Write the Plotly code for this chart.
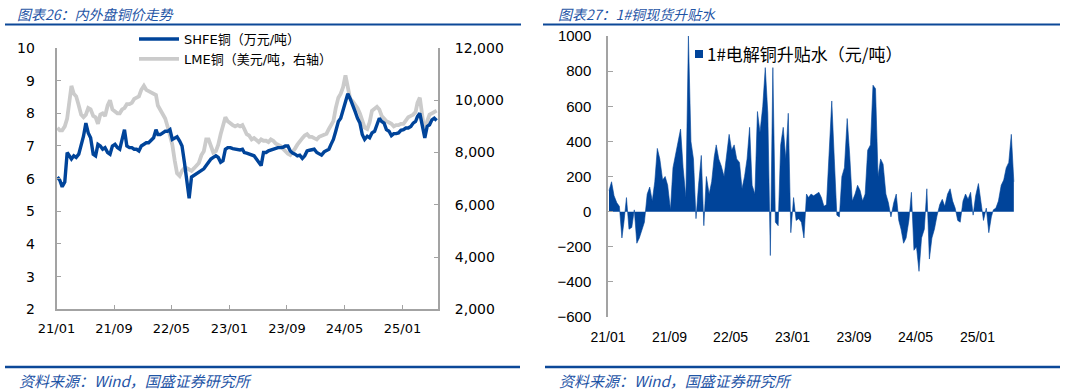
import pandas as pd
import plotly.graph_objects as go

# ---------------- data (one value per ten-day period, Jan 2021 - May 2025) ----------------
months = pd.date_range("2021-01-01", periods=53, freq="MS")
dates = [m + pd.Timedelta(days=d) for m in months for d in (4, 14, 24)]

# SHFE copper, 10k CNY/t (left axis)
shfe = [
    6.05, 5.95, 5.75,  5.9, 6.8, 6.7,  6.6, 6.7, 6.65,  6.75, 7.0, 7.3,
    7.7, 7.4, 7.25,  6.75, 6.7, 7.05,  7.0, 6.9, 6.95,  6.8, 6.75, 7.0,
    7.05, 6.95, 6.9,  7.25, 7.5, 7.0,  6.95, 6.95, 6.9,  6.9, 6.85, 7.0,
    7.05, 7.1, 7.1,  7.2, 7.25, 7.5,  7.35, 7.35, 7.4,  7.45, 7.45, 7.5,
    7.2, 7.25, 7.28,  7.15, 7.0, 6.5,  5.9, 5.4, 6.05,  6.1, 6.15, 6.2,
    6.25, 6.3, 6.4,  6.5, 6.6, 6.65,  6.7, 6.65, 6.5,  6.55, 6.9, 6.95,
    6.95, 6.92, 6.9,  6.9, 6.88, 6.9,  6.8, 6.78, 6.75,  6.72, 6.7, 6.6,
    6.5, 6.4, 6.8,  6.8, 6.85, 6.88,  6.9, 6.92, 6.95,  6.95, 6.96, 7.0,
    7.0, 6.85, 6.78,  6.75, 6.7, 6.72,  6.62, 6.7, 6.85,  6.87, 6.88, 6.9,
    6.8, 6.75, 6.72,  6.82, 6.85, 6.9,  7.05, 7.2, 7.45,  7.75, 7.85, 8.1,
    8.3, 8.6, 8.45,  8.2, 8.05, 7.85,  7.7, 7.35, 7.2,  7.3, 7.25, 7.4,
    7.45, 7.65, 7.85,  7.75, 7.7, 7.5,  7.45, 7.32, 7.38,  7.38, 7.4, 7.48,
    7.5, 7.55, 7.55,  7.6, 7.7, 7.75,  7.9, 8.0, 7.65,  7.25, 7.6, 7.65,
    7.8, 7.85, 7.78,
]

# LME copper, USD/t (right axis)
lme = [
    8950, 8850, 8850,  9000, 9300, 10000,  10550, 10250, 10150,  9800, 9450, 9350,
    9450, 9700, 9650,  9400, 9350, 9100,  9450, 9500, 9400,  9800, 10000, 9650,
    9550, 9500, 9500,  9650, 9700, 9850,  9850, 9900, 10050,  10100, 10150, 10400,
    10550, 10400, 10350,  10300, 10250, 10200,  9800, 9650, 9450,  9300, 9000, 8700,
    8300, 7700, 7200,  7100, 7300, 7400,  7400, 7350, 7300,  7400, 7500, 7600,
    7900, 8050, 8500,  8500, 8250, 8000,  8050, 8300, 8700,  9100, 9350, 9200,
    9100, 9050, 9000,  9050, 9000, 9050,  8900, 8700, 8650,  8500, 8550, 8450,
    8400, 8500, 8450,  8450, 8400, 8500,  8450, 8350, 8300,  8250, 8150, 8050,
    7950, 7900, 8000,  8150, 8300, 8450,  8550, 8650, 8700,  8600, 8600, 8550,
    8500, 8600, 8650,  8700, 8720, 8900,  9050, 9200, 9700,  10100, 10250, 10500,
    10950, 10450, 10050,  9950, 9850, 9700,  9500, 9250, 8950,  8900, 9150, 9600,
    9700, 9750, 9650,  9400, 9300, 9200,  9150, 9100, 9000,  9050, 9050, 9100,
    9100, 9200, 9350,  9400, 9450, 9550,  9900, 10100, 9400,  8700, 9200, 9450,
    9500, 9550, 9600,
]

# 1# electrolytic copper spot premium/discount, CNY/t
premium = [
    120, 170, 90,  50, 30, -150,  -60, 80, -100,  -90, 10, -180,
    -150, -110, -60,  100, 140, 60,  170, 360, 300,  180, 200, 150,
    10, 250, 330,  390, 470, 250,  80, 1000, 400,  300, -40, 150,
    320, -80, 200,  100, 170, 310,  380, 300, 260,  200, 340, 440,
    350, 380, 300,  280, 130, 200,  300, 480, 150,  100, 570, 450,
    600, 820, 560,  -250, 820, -60,  -80, 380, 480,  300, 560, -120,
    80, -50, -40,  -60, -150, 100,  80, 100, 90,  100, 110, 80,
    30, 40, 330,  630, 300, -20,  -30, 200, 250,  530, 320, 60,
    100, 150, 120,  60, 100, 350,  380, 720, 700,  200, 300, 270,
    100, 50, -30,  50, 100, -50,  -100, -180, -150,  -50, 110, -220,
    -200, -340, -150,  -100, 130, -270,  -150, -100, -25,  40, 70, 30,
    100, 130, 60,  20, -50, -60,  60, 100, 70,  110, -20, 90,
    160, 50, -50,  20, -120, -30,  10, 20, 60,  150, 180, 250,
    280, 440, 170,
]

x_range = ["2021-01-01", "2025-06-01"]

# ---------------- styling ----------------
W, H = 1065, 392
BLUE = "#00449a"
GRAY = "#cbcbcb"
AXIS = "#a3a3a3"
TITLE_BLUE = "#1f55a6"
RULE = "#0c4898"
LEFT_FONT = "DejaVu Sans, Noto Sans CJK SC, sans-serif"
RIGHT_FONT = "Liberation Sans, Arial, Noto Sans CJK SC, sans-serif"
CJK = "Noto Sans CJK SC, sans-serif"


def px(xp):
    return xp / W


def py(yp):
    return 1 - yp / H


fig = go.Figure()
fig.add_trace(go.Scatter(
    x=dates, y=shfe, name="SHFE铜（万元/吨）", mode="lines",
    line=dict(color=BLUE, width=3.4), xaxis="x", yaxis="y2"))
fig.add_trace(go.Scatter(
    x=dates, y=lme, name="LME铜（美元/吨，右轴）", mode="lines",
    line=dict(color=GRAY, width=3.8), xaxis="x", yaxis="y"))
fig.add_trace(go.Scatter(
    x=dates, y=premium, name="1#电解铜升贴水（元/吨）", mode="lines",
    fill="tozeroy", fillcolor=BLUE, line=dict(color=BLUE, width=0.6),
    xaxis="x2", yaxis="y3", showlegend=False))

axis_common = dict(showgrid=False, zeroline=False, showline=True, linecolor=AXIS,
                   linewidth=1.5, ticks="inside", tickcolor=AXIS, ticklen=5, tickwidth=1.2,
                   automargin=False)

left_dom_x = [px(56.5), px(438.3)]
left_dom_y = [py(309.3), py(48)]
right_dom_x = [px(608), px(1015.6)]
right_dom_y = [py(317), py(36)]
zero_pos = right_dom_y[0] + (0 - (-600)) / 1600 * (right_dom_y[1] - right_dom_y[0])

fig.update_layout(
    width=W, height=H, margin=dict(l=0, r=0, t=0, b=0, autoexpand=False),
    paper_bgcolor="white", plot_bgcolor="white", showlegend=True,
    xaxis=dict(domain=left_dom_x, anchor="y", type="date", range=x_range,
               tick0="2021-01-01", dtick="M8", tickformat="%y/%m",
               tickfont=dict(family=LEFT_FONT, size=13, color="black"),
               ticklabelstandoff=6, **axis_common),
    yaxis=dict(domain=left_dom_y, anchor="x", side="right", range=[2000, 12000],
               dtick=2000, tickformat=",d",
               tickfont=dict(family=LEFT_FONT, size=14, color="black"),
               ticklabelstandoff=12, **axis_common),
    yaxis2=dict(overlaying="y", anchor="x", side="left", range=[2, 10], dtick=1,
                tickfont=dict(family=LEFT_FONT, size=14, color="black"),
                ticklabelstandoff=17, **axis_common),
    xaxis2=dict(domain=right_dom_x, anchor="y3", type="date", range=x_range,
                tick0="2021-01-01", dtick="M8", tickformat="%y/%m",
                showgrid=False, zeroline=False, showline=False, ticks="",
                tickfont=dict(family=RIGHT_FONT, size=14, color="black"),
                ticklabelstandoff=10, automargin=False),
    xaxis3=dict(overlaying="x2", anchor="free", position=zero_pos, type="date",
                range=x_range, tick0="2021-01-01", dtick="M8",
                showgrid=False, zeroline=False, showline=True, linecolor="black",
                linewidth=1.5, ticks="inside", ticklen=4, tickcolor="#222",
                showticklabels=False, layer="above traces", automargin=False),
    yaxis3=dict(domain=right_dom_y, anchor="x2", range=[-600, 1000], dtick=200,
                tickfont=dict(family=RIGHT_FONT, size=15, color="black"),
                ticklabelstandoff=12, **axis_common),
    legend=dict(x=px(134), y=py(24), xanchor="left", yanchor="top",
                bgcolor="rgba(0,0,0,0)", borderwidth=0, tracegroupgap=0,
                itemwidth=40, font=dict(family=LEFT_FONT, size=13, color="black")),
)

# titles, legend label for right panel, footers
ann = [
    dict(text="图表26：内外盘铜价走势", x=px(15), y=py(14), size=14),
    dict(text="图表27：1#铜现货升贴水", x=px(556), y=py(14), size=14),
    dict(text="资料来源：Wind，国盛证券研究所", x=px(17), y=py(380), size=15),
    dict(text="资料来源：Wind，国盛证券研究所", x=px(557), y=py(380), size=15),
]
for a in ann:
    fig.add_annotation(xref="paper", yref="paper", xanchor="left", yanchor="middle",
                       showarrow=False, text=a["text"], x=a["x"], y=a["y"],
                       font=dict(family=CJK, size=a["size"], color=TITLE_BLUE, style="italic"))

fig.add_annotation(xref="paper", yref="paper", xanchor="left", yanchor="middle",
                   showarrow=False, text="1#电解铜升贴水（元/吨）", x=px(705), y=py(54),
                   font=dict(family=CJK, size=17, color="black"))
fig.add_shape(type="rect", xref="paper", yref="paper", x0=px(695), x1=px(703),
              y0=py(58), y1=py(50), fillcolor=BLUE, line=dict(width=0))

for x0, x1, y, w in [(5, 521, 24.5, 2), (543, 1060, 24.5, 2), (5, 520, 367, 2.5), (545, 1060, 367, 2.5)]:
    fig.add_shape(type="line", xref="paper", yref="paper", x0=px(x0), x1=px(x1),
                  y0=py(y), y1=py(y), line=dict(color=RULE, width=w))

fig.write_html("out.html", config={"displayModeBar": False},
               post_script="document.body.style.margin='0';document.body.style.overflow='hidden';")
